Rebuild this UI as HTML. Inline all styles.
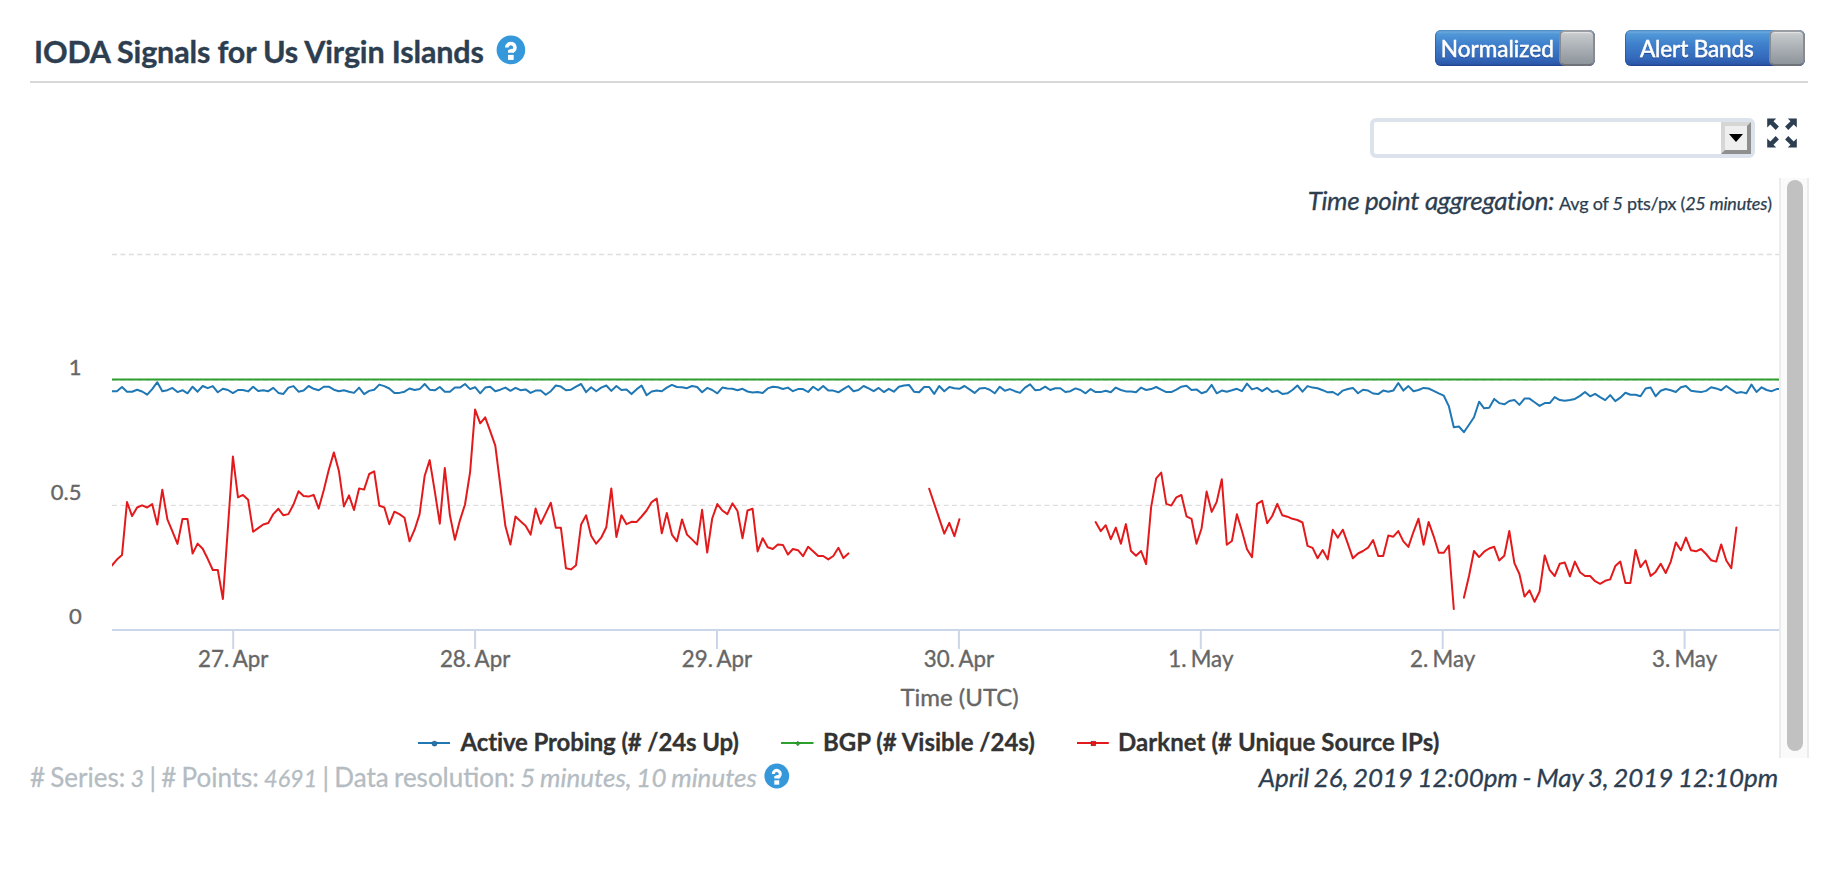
<!DOCTYPE html>
<html>
<head>
<meta charset="utf-8">
<style>
html,body{margin:0;padding:0;background:#fff;}
body{width:1838px;height:874px;overflow:hidden;position:relative;font-family:"Lato","Liberation Sans",sans-serif;}
.abs{position:absolute;}
svg{position:absolute;left:0;top:0;}
.tog{position:absolute;top:30px;height:36px;border-radius:6px;overflow:hidden;
 background:linear-gradient(to bottom,#4a86c2 0px,#6aa8dd 2px,#5198d8 4px,#3f80cc 14px,#3469bb 28px,#2c58aa 34px,#1f3f8a 36px);
 box-shadow:inset 1px 0 0 rgba(30,70,140,.5),inset -1px 0 0 rgba(30,70,140,.5);}
.tog .lbl{position:absolute;top:1.2px;height:36px;line-height:36px;color:#fff;font-size:22.6px;font-weight:400;
 text-shadow:0 1px 1px rgba(0,0,40,.35);-webkit-text-stroke:0.45px #fff;white-space:nowrap;}
.knob{position:absolute;top:0;width:36px;height:36px;box-sizing:border-box;border-radius:6px;
 border:2px solid #888c90;border-top-color:#9a9ea2;border-bottom-color:#707478;background:linear-gradient(to bottom,#d3d6d9 0px,#c3c7ca 3px,#a8aeb3 17px,#8e959b 32px);
 box-shadow:inset 0 1px 0 rgba(255,255,255,.35);}
.sel{position:absolute;left:1370px;top:118px;width:385px;height:40px;box-sizing:border-box;border:4px solid #dce3ec;border-radius:6px;background:#fff;}
.selbtn{position:absolute;left:1721px;top:122px;width:30px;height:32px;box-sizing:border-box;
 border-style:solid;border-width:4px;border-color:#d6d6d6 #8f8f8f #8f8f8f #d6d6d6;background:#efefef;}
.sbtrack{position:absolute;left:1779px;top:178px;width:30px;height:580px;box-sizing:border-box;background:#fafafa;
 border-left:2px solid #ececec;border-right:2px solid #ececec;}
.sbthumb{position:absolute;left:1787px;top:180px;width:16px;height:571px;border-radius:8px;background:#c1c1c1;}
</style>
</head>
<body>
<svg width="1838" height="874" viewBox="0 0 1838 874">
  <defs><clipPath id="plotclip"><rect x="112" y="240" width="1696" height="392"/></clipPath></defs>
  <!-- title -->
  <text textLength="449.75" lengthAdjust="spacingAndGlyphs" x="34" y="62.7" font-family="Lato, 'Liberation Sans', sans-serif" font-weight="700" font-size="30.5" letter-spacing="-0.15" fill="#2c3e50" stroke="#2c3e50" stroke-width="0.35">IODA Signals for Us Virgin Islands</text>
  <g transform="translate(510.9,49.9)">
    <circle cx="0" cy="0" r="14.3" fill="#3498db"/>
    <path d="M-4.1,-2.4 A4.05,4.05 0 1 1 2.9,0.4 L1,1.6" fill="none" stroke="#fff" stroke-width="3.6" stroke-linejoin="round"/>
    <polygon points="-2.9,0.4 0.4,-1.2 3.0,0.2 2.95,2.95 -2.9,2.95" fill="#fff"/>
    <rect x="-2.9" y="5" width="5.7" height="5" fill="#fff"/>
  </g>
  <!-- header rule -->
  <rect x="30" y="81" width="1778" height="2" fill="#d8d8d8"/>

  <!-- fullscreen icon -->
  <g fill="#2c3e50" transform="translate(1767,118)">
    <polygon points="0.2,0.5 9.2,0.5 6.5,3.2 11.9,8.6 8.7,12 3.3,6.5 0.2,9.4"/>
    <polygon points="29.8,0.5 20.8,0.5 23.5,3.2 18.1,8.6 21.3,12 26.7,6.5 29.8,9.4"/>
    <polygon points="0.2,29.5 9.2,29.5 6.5,26.8 11.9,21.4 8.7,18 3.3,23.5 0.2,20.6"/>
    <polygon points="29.8,29.5 20.8,29.5 23.5,26.8 18.1,21.4 21.3,18 26.7,23.5 29.8,20.6"/>
  </g>

  <!-- aggregation text -->
  <text textLength="246.50" lengthAdjust="spacingAndGlyphs" x="1307.7" y="210.4" font-family="Lato, 'Liberation Sans', sans-serif" fill="#2c3e50" stroke="#2c3e50" stroke-width="0.3" font-style="italic" font-size="26" letter-spacing="-0.37">Time point aggregation:</text>
  <text textLength="212.70" lengthAdjust="spacingAndGlyphs" x="1771.8" y="210.4" text-anchor="end" font-family="Lato, 'Liberation Sans', sans-serif" fill="#2c3e50" stroke="#2c3e50" stroke-width="0.25" font-size="18" letter-spacing="-0.24">Avg of <tspan font-style="italic">5</tspan> pts/px (<tspan font-style="italic">25 minutes</tspan>)</text>

  <!-- chart -->
  <g>
    <line x1="112" y1="254.5" x2="1808" y2="254.5" stroke="#dedede" stroke-width="1.3" stroke-dasharray="5,3.4"/>
    <line x1="112" y1="380" x2="1808" y2="380" stroke="#dedede" stroke-width="1.3" stroke-dasharray="5,3.4"/>
    <line x1="112" y1="505.4" x2="1808" y2="505.4" stroke="#dedede" stroke-width="1.3" stroke-dasharray="5,3.4"/>
    <rect x="112" y="629" width="1696" height="2" fill="#ccd6eb"/>
    <g fill="#ccd6eb">
      <rect x="232.2" y="630" width="2" height="19"/>
      <rect x="474.1" y="630" width="2" height="19"/>
      <rect x="716" y="630" width="2" height="19"/>
      <rect x="957.9" y="630" width="2" height="19"/>
      <rect x="1199.8" y="630" width="2" height="19"/>
      <rect x="1441.7" y="630" width="2" height="19"/>
      <rect x="1683.6" y="630" width="2" height="19"/>
    </g>
    <g font-family="Lato, 'Liberation Sans', sans-serif" font-size="22.3" fill="#666666" stroke="#666666" stroke-width="0.35" text-anchor="middle" word-spacing="-1.4">
      <text textLength="70.36" lengthAdjust="spacingAndGlyphs" x="233.2" y="666.9">27. Apr</text>
      <text textLength="70.36" lengthAdjust="spacingAndGlyphs" x="475.1" y="666.9">28. Apr</text>
      <text textLength="70.36" lengthAdjust="spacingAndGlyphs" x="717" y="666.9">29. Apr</text>
      <text textLength="70.36" lengthAdjust="spacingAndGlyphs" x="958.9" y="666.9">30. Apr</text>
      <text textLength="65.19" lengthAdjust="spacingAndGlyphs" x="1200.8" y="666.9">1. May</text>
      <text textLength="65.19" lengthAdjust="spacingAndGlyphs" x="1442.7" y="666.9">2. May</text>
      <text textLength="65.19" lengthAdjust="spacingAndGlyphs" x="1684.6" y="666.9">3. May</text>
    </g>
    <text textLength="118.33" lengthAdjust="spacingAndGlyphs" x="959.6" y="705.7" text-anchor="middle" font-family="Lato, 'Liberation Sans', sans-serif" font-size="24" fill="#666666" stroke="#666666" stroke-width="0.35">Time (UTC)</text>
    <g font-family="Lato, 'Liberation Sans', sans-serif" font-size="22" fill="#666666" stroke="#666666" stroke-width="0.35" text-anchor="end">
      <text textLength="12.77" lengthAdjust="spacingAndGlyphs" x="81.5" y="374.6">1</text>
      <text textLength="30.72" lengthAdjust="spacingAndGlyphs" x="81.5" y="500.3">0.5</text>
      <text textLength="12.77" lengthAdjust="spacingAndGlyphs" x="81.8" y="624.2">0</text>
    </g>
    <line x1="112" y1="379.6" x2="1808" y2="379.6" stroke="#2ca02c" stroke-width="2"/>
    <path clip-path="url(#plotclip)" d="M111.9 391.2 L116.9 391.2 L122.0 387.0 L127.0 391.7 L132.1 391.7 L137.1 389.7 L142.1 391.5 L147.2 394.7 L152.2 389.1 L157.3 382.2 L162.3 391.2 L167.4 390.2 L172.4 387.9 L177.5 392.1 L182.5 390.2 L187.5 393.3 L192.6 386.7 L197.6 391.7 L202.7 386.0 L207.7 388.2 L212.8 386.1 L217.8 392.3 L222.9 388.8 L227.9 390.0 L232.9 393.1 L238.0 390.0 L243.0 390.0 L248.1 391.4 L253.1 386.7 L258.2 390.9 L263.2 390.2 L268.3 391.2 L273.3 387.9 L278.4 392.9 L283.4 393.9 L288.4 387.6 L293.5 386.1 L298.5 391.7 L303.6 390.6 L308.6 386.0 L313.7 388.8 L318.7 390.3 L323.8 386.7 L328.8 386.7 L333.9 389.7 L338.9 391.2 L343.9 390.2 L349.0 391.7 L354.0 392.9 L359.1 387.6 L364.1 394.1 L369.2 390.9 L374.2 389.7 L379.3 384.6 L384.3 386.1 L389.3 388.5 L394.4 392.9 L399.4 392.9 L404.5 391.7 L409.5 388.5 L414.6 390.0 L419.6 389.1 L424.7 384.0 L429.7 389.7 L434.8 390.3 L439.8 387.0 L444.8 391.7 L449.9 391.7 L454.9 387.6 L460.0 387.6 L465.0 384.0 L470.1 389.1 L475.1 387.2 L480.2 393.3 L485.2 387.6 L490.2 386.7 L495.3 391.2 L500.3 389.7 L505.4 387.6 L510.4 390.8 L515.5 387.8 L520.5 390.2 L525.6 389.4 L530.6 392.9 L535.6 390.6 L540.7 390.6 L545.7 394.7 L550.8 391.2 L555.8 385.5 L560.9 386.6 L565.9 390.2 L571.0 389.7 L576.0 386.6 L581.1 384.0 L586.1 392.1 L591.1 387.2 L596.2 391.2 L601.2 387.6 L606.3 385.5 L611.3 390.9 L616.4 386.0 L621.4 390.0 L626.5 389.4 L631.5 394.1 L636.5 389.4 L641.6 385.5 L646.6 395.3 L651.7 391.5 L656.7 390.6 L661.8 391.2 L666.8 387.6 L671.9 384.9 L676.9 387.0 L682.0 387.2 L687.0 388.2 L692.0 386.0 L697.1 387.0 L702.1 392.3 L707.2 387.9 L712.2 390.0 L717.3 393.3 L722.3 387.6 L727.4 388.5 L732.4 388.8 L737.5 390.2 L742.5 388.8 L747.5 391.5 L752.6 392.6 L757.6 392.1 L762.7 392.9 L767.7 388.4 L772.8 386.7 L777.8 387.3 L782.9 389.0 L787.9 387.6 L792.9 391.2 L798.0 389.1 L803.0 389.1 L808.1 392.0 L813.1 386.7 L818.2 390.2 L823.2 386.0 L828.3 390.6 L833.3 390.6 L838.4 392.3 L843.4 389.1 L848.4 386.0 L853.5 391.2 L858.5 390.0 L863.6 386.0 L868.6 388.4 L873.7 391.2 L878.7 387.9 L883.8 392.1 L888.8 388.8 L893.8 391.7 L898.9 386.7 L903.9 385.5 L909.0 384.9 L914.0 391.7 L919.1 392.3 L924.1 387.0 L929.2 387.0 L934.2 393.9 L939.2 386.0 L944.3 391.2 L949.3 387.0 L954.4 388.2 L959.4 388.8 L964.5 386.0 L969.5 389.4 L974.6 392.9 L979.6 388.5 L984.7 387.9 L989.7 389.7 L994.7 393.3 L999.8 386.7 L1004.8 390.8 L1009.9 389.1 L1014.9 391.2 L1020.0 392.9 L1025.0 387.6 L1030.1 384.3 L1035.1 390.2 L1040.2 389.7 L1045.2 386.7 L1050.2 390.0 L1055.3 388.2 L1060.3 388.2 L1065.4 392.0 L1070.4 391.2 L1075.5 388.4 L1080.5 390.0 L1085.6 393.3 L1090.6 389.1 L1095.6 392.1 L1100.7 392.1 L1105.7 390.8 L1110.8 392.3 L1115.8 387.6 L1120.9 390.0 L1125.9 391.4 L1131.0 391.4 L1136.0 392.3 L1141.1 387.6 L1146.1 390.0 L1151.1 389.1 L1156.2 387.0 L1161.2 389.7 L1166.3 392.1 L1171.3 392.1 L1176.4 389.7 L1181.4 386.7 L1186.5 385.8 L1191.5 390.0 L1196.5 389.4 L1201.6 393.3 L1206.6 391.5 L1211.7 384.9 L1216.7 393.3 L1221.8 390.6 L1226.8 391.7 L1231.9 390.3 L1236.9 388.8 L1241.9 391.2 L1247.0 383.6 L1252.0 389.4 L1257.1 387.9 L1262.1 391.2 L1267.2 387.9 L1272.2 392.1 L1277.3 390.6 L1282.3 393.9 L1287.4 393.3 L1292.4 390.0 L1297.4 385.5 L1302.5 391.7 L1307.5 386.1 L1312.6 387.6 L1317.6 388.2 L1322.7 390.2 L1327.7 392.3 L1332.8 392.0 L1337.8 395.0 L1342.8 390.6 L1347.9 389.0 L1352.9 387.9 L1358.0 393.3 L1363.0 389.7 L1368.1 390.6 L1373.1 393.5 L1378.2 394.1 L1383.2 390.6 L1388.3 391.7 L1393.3 390.6 L1398.3 383.0 L1403.4 390.6 L1408.4 386.1 L1413.5 391.2 L1418.5 390.0 L1423.6 387.9 L1428.6 388.5 L1433.7 390.8 L1438.7 393.3 L1443.8 395.7 L1448.8 406.1 L1453.8 427.3 L1458.9 426.5 L1463.9 432.2 L1469.0 424.7 L1474.0 417.2 L1479.1 401.7 L1484.1 408.3 L1489.2 407.7 L1494.2 398.9 L1499.2 403.1 L1504.3 404.3 L1509.3 401.0 L1514.4 399.9 L1519.4 404.9 L1524.5 398.6 L1529.5 398.6 L1534.6 402.2 L1539.6 405.9 L1544.7 403.1 L1549.7 403.1 L1554.7 397.1 L1559.8 400.1 L1564.8 400.7 L1569.9 399.9 L1574.9 398.9 L1580.0 395.9 L1585.0 392.0 L1590.1 396.3 L1595.1 393.8 L1600.1 397.1 L1605.2 400.1 L1610.2 395.1 L1615.3 401.1 L1620.3 397.7 L1625.4 392.7 L1630.4 394.7 L1635.5 394.7 L1640.5 396.3 L1645.6 388.5 L1650.6 387.6 L1655.6 396.3 L1660.7 390.8 L1665.7 389.0 L1670.8 390.2 L1675.8 392.0 L1680.9 387.3 L1685.9 386.0 L1691.0 390.8 L1696.0 391.5 L1701.0 392.1 L1706.1 390.9 L1711.1 387.3 L1716.2 388.4 L1721.2 390.2 L1726.3 386.0 L1731.3 389.6 L1736.4 392.9 L1741.4 392.1 L1746.4 393.3 L1751.5 384.6 L1756.5 392.0 L1761.6 387.3 L1766.6 390.0 L1771.7 391.2 L1776.7 389.1 L1782.0 389.1" fill="none" stroke="#1f77b4" stroke-width="2" stroke-linejoin="round" stroke-linecap="round"/>
    <path clip-path="url(#plotclip)" d="M111.9 565.5 L116.9 559.6 L122.0 555.1 L127.0 502.0 L132.1 516.1 L137.1 507.5 L142.1 505.3 L147.2 507.5 L152.2 504.1 L157.3 524.6 L162.3 489.7 L167.4 519.4 L172.4 531.3 L177.5 543.9 L182.5 519.0 L187.5 519.0 L192.6 553.6 L197.6 543.6 L202.7 548.7 L207.7 558.8 L212.8 570.0 L217.8 570.0 L222.9 599.0 L232.9 456.5 L238.0 497.3 L243.0 494.9 L248.1 499.7 L253.1 531.7 L258.2 528.1 L263.2 524.5 L268.3 523.0 L273.3 514.1 L278.4 508.8 L283.4 515.3 L288.4 514.1 L293.5 504.5 L298.5 491.3 L303.6 496.1 L308.6 496.6 L313.7 494.9 L318.7 508.6 L323.8 490.1 L328.8 469.7 L333.9 452.4 L338.9 470.9 L343.9 506.4 L349.0 495.4 L354.0 510.0 L359.1 488.4 L364.1 489.6 L369.2 474.0 L374.2 471.4 L379.3 505.7 L384.3 507.4 L389.3 524.2 L394.4 511.7 L399.4 514.1 L404.5 517.7 L409.5 541.3 L414.6 529.7 L419.6 514.1 L424.7 475.7 L429.7 460.1 L434.8 491.3 L439.8 523.7 L444.8 468.0 L449.9 515.3 L454.9 539.8 L460.0 520.1 L465.0 504.5 L470.1 472.1 L475.1 409.6 L480.2 423.3 L485.2 417.3 L490.2 431.2 L495.3 445.7 L500.3 485.3 L505.4 526.1 L510.4 544.6 L515.5 516.5 L520.5 521.3 L525.6 525.7 L530.6 534.6 L535.6 508.6 L540.7 523.7 L545.7 513.4 L550.8 502.8 L555.8 527.8 L560.9 527.8 L565.9 568.2 L571.0 569.4 L576.0 565.3 L581.1 524.5 L586.1 515.3 L591.1 535.8 L596.2 543.7 L601.2 537.7 L606.3 527.3 L611.3 488.4 L616.4 537.0 L621.4 515.3 L626.5 524.2 L631.5 521.8 L636.5 522.1 L641.6 516.5 L646.6 510.5 L651.7 502.1 L656.7 498.5 L661.8 533.3 L666.8 512.9 L671.9 534.6 L676.9 541.3 L682.0 519.4 L687.0 534.6 L692.0 539.4 L697.1 544.6 L702.1 509.8 L707.2 552.6 L712.2 518.5 L717.3 504.0 L722.3 510.5 L727.4 514.1 L732.4 503.3 L737.5 511.0 L742.5 538.2 L747.5 510.5 L752.6 508.8 L757.6 551.4 L762.7 538.2 L767.7 547.3 L772.8 549.0 L777.8 544.6 L782.9 544.9 L787.9 554.5 L792.9 549.0 L798.0 550.2 L803.0 556.2 L808.1 546.8 L813.1 551.2 L818.2 556.0 L823.2 556.0 L828.3 559.4 L833.3 556.0 L838.4 547.8 L843.4 558.1 L848.4 553.4 M929.2 488.8 L944.3 533.6 L949.3 522.9 L954.4 536.1 L959.4 519.2 M1095.6 522.1 L1100.7 531.1 L1105.7 525.2 L1110.8 539.2 L1115.8 527.6 L1120.9 543.8 L1125.9 524.1 L1131.0 551.0 L1136.0 555.8 L1141.1 551.0 L1146.1 564.1 L1151.1 507.4 L1156.2 478.3 L1161.2 472.6 L1166.3 503.9 L1171.3 505.6 L1176.4 497.3 L1181.4 495.0 L1186.5 516.3 L1191.5 518.8 L1196.5 543.8 L1201.6 528.2 L1206.6 491.6 L1211.7 511.9 L1216.7 501.9 L1221.8 479.2 L1226.8 544.7 L1231.9 541.0 L1236.9 514.2 L1241.9 530.7 L1247.0 549.2 L1252.0 557.1 L1257.1 503.9 L1262.1 500.8 L1267.2 523.2 L1272.2 516.0 L1277.3 503.9 L1282.3 515.3 L1287.4 516.7 L1292.4 518.8 L1297.4 520.0 L1302.5 522.5 L1307.5 545.8 L1312.6 547.9 L1317.6 558.2 L1322.7 550.0 L1327.7 559.4 L1332.8 529.7 L1337.8 537.7 L1342.8 529.7 L1347.9 543.8 L1352.9 558.3 L1358.0 553.5 L1363.0 551.0 L1368.1 547.7 L1373.1 540.0 L1378.2 555.9 L1383.2 555.9 L1388.3 535.6 L1393.3 536.7 L1398.3 531.1 L1403.4 541.4 L1408.4 546.9 L1413.5 531.8 L1418.5 518.7 L1423.6 544.8 L1428.6 521.9 L1433.7 536.3 L1438.7 552.7 L1443.8 552.7 L1448.8 545.5 L1453.8 609.0 M1463.9 597.7 L1469.0 576.0 L1474.0 551.0 L1479.1 557.1 L1484.1 551.7 L1489.2 548.5 L1494.2 546.8 L1499.2 560.5 L1504.3 555.7 L1509.3 531.0 L1514.4 563.2 L1519.4 574.0 L1524.5 596.6 L1529.5 590.4 L1534.6 601.8 L1539.6 591.5 L1544.7 555.4 L1549.7 570.2 L1554.7 576.0 L1559.8 563.7 L1564.8 562.6 L1569.9 576.4 L1574.9 561.6 L1580.0 572.3 L1585.0 576.0 L1590.1 576.0 L1595.1 581.2 L1600.1 583.8 L1605.2 580.8 L1610.2 579.4 L1615.3 566.1 L1620.3 561.6 L1625.4 582.9 L1630.4 582.9 L1635.5 549.9 L1640.5 567.1 L1645.6 560.5 L1650.6 576.0 L1655.6 571.9 L1660.7 563.7 L1665.7 573.0 L1670.8 561.6 L1675.8 542.4 L1680.9 550.3 L1685.9 537.6 L1691.0 550.3 L1696.0 551.3 L1701.0 549.0 L1706.1 554.0 L1711.1 560.2 L1716.2 561.6 L1721.2 544.4 L1726.3 560.5 L1731.3 568.2 L1736.4 527.5" fill="none" stroke="#e31a1c" stroke-width="2" stroke-linejoin="round" stroke-linecap="round"/>
  </g>

  <!-- legend -->
  <g font-family="Lato, 'Liberation Sans', sans-serif" font-size="24" font-weight="700" fill="#333333" stroke="#333333" stroke-width="0.3">
    <line x1="418" y1="743" x2="450" y2="743" stroke="#1f77b4" stroke-width="2"/>
    <circle cx="434.5" cy="743.6" r="2.6" fill="#1f77b4"/>
    <text textLength="278.28" lengthAdjust="spacingAndGlyphs" x="460.5" y="751" letter-spacing="-0.12">Active Probing (# /24s Up)</text>
    <line x1="781" y1="743" x2="813.5" y2="743" stroke="#2ca02c" stroke-width="2"/>
    <polygon points="797.8,741 800,743.5 797.8,746 795.6,743.5" fill="#2ca02c"/>
    <text textLength="211.97" lengthAdjust="spacingAndGlyphs" x="823" y="751">BGP (# Visible /24s)</text>
    <line x1="1077" y1="743" x2="1108.8" y2="743" stroke="#e31a1c" stroke-width="2"/>
    <rect x="1091" y="741.1" width="4.8" height="4.8" fill="#e31a1c"/>
    <text textLength="321.50" lengthAdjust="spacingAndGlyphs" x="1118" y="751" letter-spacing="0.07">Darknet (# Unique Source IPs)</text>
  </g>

  <!-- footer -->
  <text textLength="726.94" lengthAdjust="spacingAndGlyphs" x="30" y="786.8" font-family="Lato, 'Liberation Sans', sans-serif" font-size="26" word-spacing="-1.4" fill="#b4bcc2" stroke="#b4bcc2" stroke-width="0.3"># Series: <tspan font-style="italic" font-size="23.4">3</tspan> | # Points: <tspan font-style="italic" font-size="23.4">4691</tspan> | Data resolution: <tspan font-style="italic">5 minutes, 10 minutes</tspan></text>
  <g transform="translate(776.8,776) scale(0.866)">
    <circle cx="0" cy="0" r="14.3" fill="#3498db"/>
    <path d="M-4.1,-2.4 A4.05,4.05 0 1 1 2.9,0.4 L1,1.6" fill="none" stroke="#fff" stroke-width="3.6" stroke-linejoin="round"/>
    <polygon points="-2.9,0.4 0.4,-1.2 3.0,0.2 2.95,2.95 -2.9,2.95" fill="#fff"/>
    <rect x="-2.9" y="5" width="5.7" height="5" fill="#fff"/>
  </g>
  <text textLength="519.22" lengthAdjust="spacingAndGlyphs" x="1778" y="786.8" text-anchor="end" font-family="Lato, 'Liberation Sans', sans-serif" font-size="26" font-style="italic" word-spacing="-1.1" letter-spacing="-0.14" fill="#2c3e50" stroke="#2c3e50" stroke-width="0.3">April 26, 2019 12:00pm - May 3, 2019 12:10pm</text>
</svg>

<div class="tog" style="left:1435px;width:160px;"><div class="knob" style="left:124px;"></div></div>
<div class="tog" style="left:1625px;width:180px;"><div class="knob" style="left:144px;"></div></div>

<div class="sel"></div>
<div class="selbtn"></div>
<svg width="1838" height="874" style="pointer-events:none">
  <defs><filter id="tsh" x="-5%" y="-30%" width="110%" height="160%"><feDropShadow dx="0" dy="1" stdDeviation="0.6" flood-color="#000028" flood-opacity="0.35"/></filter></defs>
  <polygon points="1729,134 1743,134 1736,142" fill="#000"/>
  <g font-family="Lato, 'Liberation Sans', sans-serif" font-size="22.6" fill="#fff" stroke="#fff" stroke-width="0.45" filter="url(#tsh)">
    <text textLength="113.09" lengthAdjust="spacingAndGlyphs" x="1440.8" y="57.1">Normalized</text>
    <text textLength="113.67" lengthAdjust="spacingAndGlyphs" x="1640" y="57.1" letter-spacing="-0.15">Alert Bands</text>
  </g>
</svg>

<div class="sbtrack"></div>
<div class="sbthumb"></div>
</body>
</html>
